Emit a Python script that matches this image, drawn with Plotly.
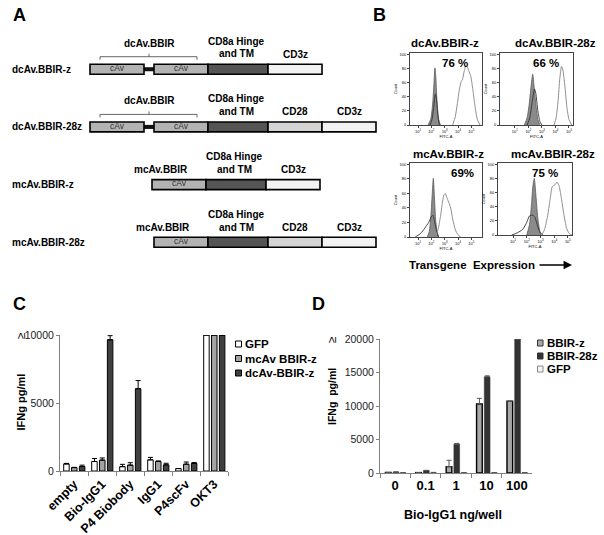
import plotly.graph_objects as go

W, H = 604, 535

# ---------------- Panel A data (schematic, domain lengths in arbitrary units) ----------------
constructs = ["dcAv.BBIR-z", "dcAv.BBIR-28z", "mcAv.BBIR-z", "mcAv.BBIR-28z"]
construct_start = [90, 90, 152, 154]
construct_parts = [
    ["cAv", "linker", "cAv", "CD8a", "CD3z"],
    ["cAv", "linker", "cAv", "CD8a", "CD28", "CD3z"],
    ["cAv", "CD8a", "CD3z"],
    ["cAv", "CD8a", "CD28", "CD3z"],
]
domain_len = {"cAv": 54, "linker": 10, "CD8a": 60, "CD28": 54, "CD3z": 54}
fusion_labels = ["dcAv.BBIR", "dcAv.BBIR", "mcAv.BBIR", "mcAv.BBIR"]

# ---------------- Panel B data (log10 fluorescence, % of max count) ----------------
facs_titles = ["dcAv.BBIR-z", "dcAv.BBIR-28z", "mcAv.BBIR-z", "mcAv.BBIR-28z"]
facs_pct = ["76 %", "66 %", "69%", "75 %"]
ctrl_x = [
    [1.75, 1.95, 2.1, 2.2, 2.27, 2.33, 2.42, 2.55, 2.68],
    [1.7, 1.9, 2.05, 2.2, 2.32, 2.42, 2.55, 2.7, 2.85],
    [1.7, 1.85, 1.97, 2.07, 2.15, 2.22, 2.32, 2.45, 2.55],
    [2.0, 2.2, 2.35, 2.45, 2.55, 2.65, 2.8, 2.95, 3.05],
]
ctrl_y = [
    [0, 8, 30, 60, 81, 70, 35, 8, 0],
    [0, 10, 28, 55, 72, 55, 30, 8, 0],
    [0, 8, 30, 60, 81, 60, 25, 5, 0],
    [0, 15, 45, 70, 80, 60, 25, 5, 0],
]
neg_x = [
    [1.9, 2.05, 2.18, 2.3, 2.38, 2.48, 2.6],
    [1.9, 2.1, 2.3, 2.45, 2.55, 2.7, 2.85, 3.0],
    [0.8, 1.2, 1.5, 1.8, 2.0, 2.12, 2.25, 2.4, 2.55],
    [0.9, 1.3, 1.7, 2.0, 2.2, 2.45, 2.6, 2.8, 3.0, 3.2],
]
neg_y = [
    [0, 8, 25, 44, 38, 15, 0],
    [0, 10, 35, 51, 45, 20, 5, 0],
    [0, 5, 12, 20, 28, 30, 20, 8, 0],
    [0, 3, 8, 18, 27, 28, 25, 12, 3, 0],
]
pos_x = [
    [3.6, 3.8, 3.95, 4.1, 4.25, 4.33, 4.45, 4.6, 4.7, 4.8, 4.95, 5.1, 5.25, 5.45, 5.65],
    [3.9, 4.05, 4.2, 4.32, 4.45, 4.55, 4.7, 4.85, 5.0, 5.2],
    [2.3, 2.5, 2.7, 2.85, 2.95, 3.05, 3.15, 3.3, 3.45, 3.6, 3.8, 4.0, 4.2],
    [3.1, 3.3, 3.5, 3.7, 3.85, 3.95, 4.1, 4.2, 4.35, 4.5, 4.7, 4.9, 5.1, 5.3],
]
pos_y = [
    [0, 12, 30, 50, 62, 64, 75, 84, 82, 77, 70, 52, 30, 8, 0],
    [0, 10, 35, 65, 83, 78, 55, 25, 8, 0],
    [0, 10, 30, 50, 58, 60, 55, 48, 40, 25, 10, 3, 0],
    [0, 8, 25, 50, 68, 70, 72, 75, 70, 55, 30, 10, 2, 0],
]
facs_xrange = [[0.4, 5.8], [-0.1, 5.3], [0.4, 5.8], [-0.1, 5.3]]

# ---------------- Panel C data ----------------
c_categories = ["empty", "Bio-IgG1", "P4 Biobody", "IgG1", "P4scFv", "OKT3"]
c_series = ["GFP", "mcAv BBIR-z", "dcAv-BBIR-z"]
c_values = [
    [520, 700, 320, 820, 180, 10000],
    [250, 800, 430, 700, 500, 10000],
    [330, 9650, 6050, 450, 560, 10000],
]
c_errors = [
    [40, 220, 170, 180, 0, 0],
    [20, 160, 180, 40, 160, 0],
    [100, 300, 600, 120, 60, 0],
]

# ---------------- Panel D data ----------------
d_categories = ["0", "0.1", "1", "10", "100"]
d_series = ["BBIR-z", "BBIR-28z", "GFP"]
d_values = [
    [80, 60, 950, 10300, 10700],
    [150, 380, 4300, 14350, 20000],
    [60, 80, 60, 60, 60],
]
d_errors = [
    [0, 0, 950, 850, 0],
    [0, 0, 120, 150, 0],
    [0, 0, 0, 0, 0],
]

# ---------------- helpers ----------------
FONT = "Liberation Sans, Arial, sans-serif"


def xd(a, b):
    return [a / W, b / W]


def yd(top, bottom):
    return [1 - bottom / H, 1 - top / H]


annotations = []
shapes = []


def ann(x, y, text, size=11, bold=True, xanchor="center", yanchor="middle", angle=0, color="black"):
    annotations.append(dict(
        x=x / W, y=1 - y / H, xref="paper", yref="paper", text=f"<b>{text}</b>" if bold else text,
        showarrow=False, xanchor=xanchor, yanchor=yanchor, textangle=angle,
        font=dict(family=FONT, size=size, color=color)))


fig = go.Figure()

# ================= Panel A =================
seg_colors = {"cAv": "#b3b3b3", "linker": "#111111", "CD8a": "#555555", "CD28": "#d4d4d4", "CD3z": "#f2f2f2"}
seg_rows = {k: [] for k in domain_len}
seg_base = {k: [] for k in domain_len}
seg_len = {k: [] for k in domain_len}
seg_centers = []  # (row, name, center, start, end)
for r, parts in enumerate(construct_parts):
    pos = construct_start[r]
    for p in parts:
        seg_rows[p].append(r)
        seg_base[p].append(pos)
        seg_len[p].append(domain_len[p])
        seg_centers.append((r, p, pos + domain_len[p] / 2, pos, pos + domain_len[p]))
        pos += domain_len[p]

BAR_T = 0.173
for name in ["linker", "cAv", "CD8a", "CD28", "CD3z"]:
    thick = 0.07 if name == "linker" else BAR_T
    fig.add_trace(go.Bar(
        orientation="h", y=seg_rows[name], x=seg_len[name], base=seg_base[name],
        width=thick, offset=-thick / 2, xaxis="x7", yaxis="y7",
        marker=dict(color=seg_colors[name], line=dict(color="black", width=0 if name == "linker" else 1.6)),
        showlegend=False, hoverinfo="skip"))

for r, name in enumerate(constructs):
    annotations.append(dict(x=10 / W, y=r, xref="paper", yref="y7", text=f"<b>{name}</b>",
                            showarrow=False, xanchor="left", yanchor="middle",
                            font=dict(family=FONT, size=10, color="black")))


def a_ann(x, y, text, size=10, color="black", bold=True):
    annotations.append(dict(x=x, y=y, xref="x7", yref="y7", text=f"<b>{text}</b>" if bold else text,
                            showarrow=False, xanchor="center", yanchor="middle",
                            font=dict(family=FONT, size=size, color=color)))


for r, p, c, s, e in seg_centers:
    if p == "cAv":
        a_ann(c, r - 0.02, "cAv", size=8.5, color="#333333", bold=False)
    elif p == "CD8a":
        a_ann(c - 2, r - 0.485, "CD8a Hinge")
        a_ann(c - 2, r - 0.265, "and TM")
    elif p in ("CD28", "CD3z"):
        a_ann(c, r - 0.26, p)

for r in range(4):
    if r < 2:
        first = [s for rr, p, c, s, e in seg_centers if rr == r and p == "cAv"]
        last = [e for rr, p, c, s, e in seg_centers if rr == r and p == "cAv"]
        x0, x1 = first[0] + 10, last[-1] - 11
        mid = (first[0] + last[-1]) / 2
        a_ann(mid, r - 0.45, fusion_labels[r])
        shapes.append(dict(type="path", xref="x7", yref="y7",
                           path=f"M {x0},{r - 0.165} L {x0},{r - 0.217} L {x1},{r - 0.217} L {x1},{r - 0.165} "
                                f"M {mid},{r - 0.217} L {mid},{r - 0.27}",
                           line=dict(color="#666666", width=1)))
    else:
        a_ann(construct_start[r] + 9, r - 0.26, fusion_labels[r])

# ================= Panel B =================
b_boxes = [(410, 482, 53, 125), (500, 573, 53, 125), (410, 482, 163, 237), (498, 572, 163, 235)]
b_title_pos = [(445, 43), (555, 43), (448, 154), (553, 154)]
b_pct_pos = [(455, 63), (546, 63), (462, 173), (545, 173)]
for i in range(4):
    xa, ya = f"x{3 + i}", f"y{3 + i}"
    fig.add_trace(go.Scatter(x=ctrl_x[i], y=ctrl_y[i], mode="lines", fill="tozeroy",
                             fillcolor="#8a8a8a", line=dict(color="#5a5a5a", width=0.8, shape="spline", smoothing=0.6),
                             xaxis=xa, yaxis=ya, showlegend=False, hoverinfo="skip"))
    fig.add_trace(go.Scatter(x=neg_x[i], y=neg_y[i], mode="lines",
                             line=dict(color="#333333", width=0.9, shape="spline", smoothing=0.6),
                             xaxis=xa, yaxis=ya, showlegend=False, hoverinfo="skip"))
    fig.add_trace(go.Scatter(x=pos_x[i], y=pos_y[i], mode="lines",
                             line=dict(color="#8f8f8f", width=1, shape="spline", smoothing=0.6),
                             xaxis=xa, yaxis=ya, showlegend=False, hoverinfo="skip"))
    ann(*b_title_pos[i], facs_titles[i], size=11.5)
    ann(*b_pct_pos[i], facs_pct[i], size=11.5)

ann(472, 265, "Transgene  Expression", size=11.5)
annotations.append(dict(x=572 / W, y=1 - 265 / H, ax=-34, ay=0, xref="paper", yref="paper",
                        axref="pixel", ayref="pixel", text="", showarrow=True, arrowhead=2, arrowsize=1.3,
                        arrowwidth=1.3, arrowcolor="black"))

# ================= Panel C =================
c_colors = ["white", "#a3a3a3", "#404040"]
c_centers = [-0.27, 0.01, 0.29]
c_w = 0.196
for s in range(3):
    fig.add_trace(go.Bar(
        x=c_categories, y=c_values[s], name=c_series[s], width=c_w, offset=c_centers[s] - c_w / 2,
        marker=dict(color=c_colors[s], line=dict(color="black", width=1)),
        error_y=dict(type="data", array=c_errors[s], arrayminus=[0] * 6, symmetric=False,
                     color="black", thickness=1, width=2.5),
        xaxis="x", yaxis="y", showlegend=False, hoverinfo="skip"))

# ================= Panel D =================
d_colors = ["#a8a8a8", "#333333", "#f4f4f4"]
d_lines = ["black", "#333333", "#9a9a9a"]
d_lw = [1.4, 0.6, 0.8]
d_centers = [-0.23, 0.025, 0.26]
d_w = 0.187
for s in range(3):
    fig.add_trace(go.Bar(
        x=d_categories, y=d_values[s], name=d_series[s], width=d_w, offset=d_centers[s] - d_w / 2,
        marker=dict(color=d_colors[s], line=dict(color=d_lines[s], width=d_lw[s])),
        error_y=dict(type="data", array=d_errors[s], arrayminus=[0] * 5, symmetric=False,
                     color="#555555", thickness=1, width=2.5, visible=True),
        xaxis="x2", yaxis="y2", showlegend=False, hoverinfo="skip"))

# legends (C and D)
for k, (txt, col) in enumerate(zip(c_series, c_colors)):
    cy = 344 + 14.5 * k
    shapes.append(dict(type="rect", xref="paper", yref="paper", x0=235.5 / W, x1=241.5 / W,
                       y0=1 - (cy + 3) / H, y1=1 - (cy - 3) / H, fillcolor=col, line=dict(color="black", width=1)))
    ann(242.5, cy, txt, size=11.5, xanchor="left")
for k, (txt, col, lc) in enumerate(zip(d_series, d_colors, d_lines)):
    cy = 343 + 13 * k
    shapes.append(dict(type="rect", xref="paper", yref="paper", x0=537.5 / W, x1=543 / W,
                       y0=1 - (cy + 3) / H, y1=1 - (cy - 3) / H, fillcolor=col,
                       line=dict(color="#333333" if k < 2 else "#888888", width=1)))
    ann(544.5, cy, txt, size=11.5, xanchor="left")

# axis titles / symbols
ann(20.5, 402, "IFNg pg/ml", size=11, angle=-90)
ann(21, 336, "≥", size=12, bold=False, angle=-90)
ann(332, 397, "IFNg  pg/ml", size=10.5, angle=-90)
ann(332, 340, "≥", size=12, bold=False, angle=-90)
ann(453, 515, "Bio-IgG1 ng/well", size=12.5)

# panel letters
for letter, x, y in [("A", 19, 15), ("B", 379, 15), ("C", 19, 304), ("D", 318, 304)]:
    ann(x, y, letter, size=18)

# ================= Layout =================
layout = dict(
    width=W, height=H, margin=dict(l=0, r=0, t=0, b=0, autoexpand=False), paper_bgcolor="white",
    plot_bgcolor="white", barmode="overlay", font=dict(family=FONT, color="black"),
    annotations=annotations, shapes=shapes,
    xaxis=dict(domain=xd(60, 228), anchor="y", type="category", range=[-0.5, 5.5], tickson="boundaries",
               ticks="outside", ticklen=4, tickcolor="#808080", showline=True, linecolor="#808080",
               linewidth=1, tickangle=-45, tickfont=dict(family=FONT, size=12.5, color="black"),
               showgrid=False, tickprefix="<b>", ticksuffix="</b>", automargin=False),
    yaxis=dict(domain=yd(335, 471), anchor="x", range=[0, 10000], tickvals=[0, 5000, 10000],
               tickformat="d", automargin=False,
               ticks="outside", ticklen=3, tickcolor="#808080", showline=True, linecolor="#808080",
               showgrid=False, zeroline=False, tickfont=dict(family=FONT, size=10.5, color="#222222")),
    xaxis2=dict(domain=xd(380, 532), anchor="y2", type="category", range=[-0.5, 4.5], tickson="boundaries",
                ticks="outside", ticklen=4, tickcolor="#808080", showline=True, linecolor="#808080",
                tickfont=dict(family=FONT, size=13, color="black"), showgrid=False,
                tickprefix="<b>", ticksuffix="</b>", automargin=False),
    yaxis2=dict(domain=yd(339, 473), anchor="x2", range=[0, 20000], tickvals=[0, 5000, 10000, 15000, 20000],
                tickformat="d", automargin=False,
                ticks="outside", ticklen=3, tickcolor="#808080", showline=True, linecolor="#808080",
                showgrid=False, zeroline=False, tickfont=dict(family=FONT, size=10.5, color="#222222")),
    xaxis7=dict(domain=xd(0, 390), anchor="y7", range=[0, 390], visible=False, automargin=False),
    yaxis7=dict(domain=yd(0, 270), anchor="x7", range=[3.48, -1.2], visible=False, automargin=False),
)
for i in range(4):
    x0, x1, t, b = b_boxes[i]
    layout[f"xaxis{3 + i}"] = dict(
        domain=xd(x0, x1), anchor=f"y{3 + i}", range=facs_xrange[i], tickvals=[1, 2, 3, 4, 5],
        ticktext=["10<sup>1</sup>", "10<sup>2</sup>", "10<sup>3</sup>", "10<sup>4</sup>", "10<sup>5</sup>"],
        ticks="outside", ticklen=2, tickcolor="#444", tickfont=dict(size=4, family=FONT),
        showline=True, mirror=True, linecolor="#444444", linewidth=1, showgrid=False, zeroline=False,
        automargin=False, title=dict(text="FITC-A", font=dict(size=4, family=FONT), standoff=1))
    layout[f"yaxis{3 + i}"] = dict(
        domain=yd(t, b), anchor=f"x{3 + i}", range=[0, 102], tickvals=[0, 20, 40, 60, 80, 100],
        ticks="outside", ticklen=2, tickcolor="#444", tickfont=dict(size=4, family=FONT),
        showline=True, mirror=True, linecolor="#444444", linewidth=1, showgrid=False, zeroline=False,
        automargin=False, title=dict(text="Count", font=dict(size=4, family=FONT), standoff=2))

fig.update_layout(**layout)
fig.write_html("out.html", config={"displayModeBar": False},
               post_script="document.body.style.margin='0px';document.body.style.overflow='hidden';")
